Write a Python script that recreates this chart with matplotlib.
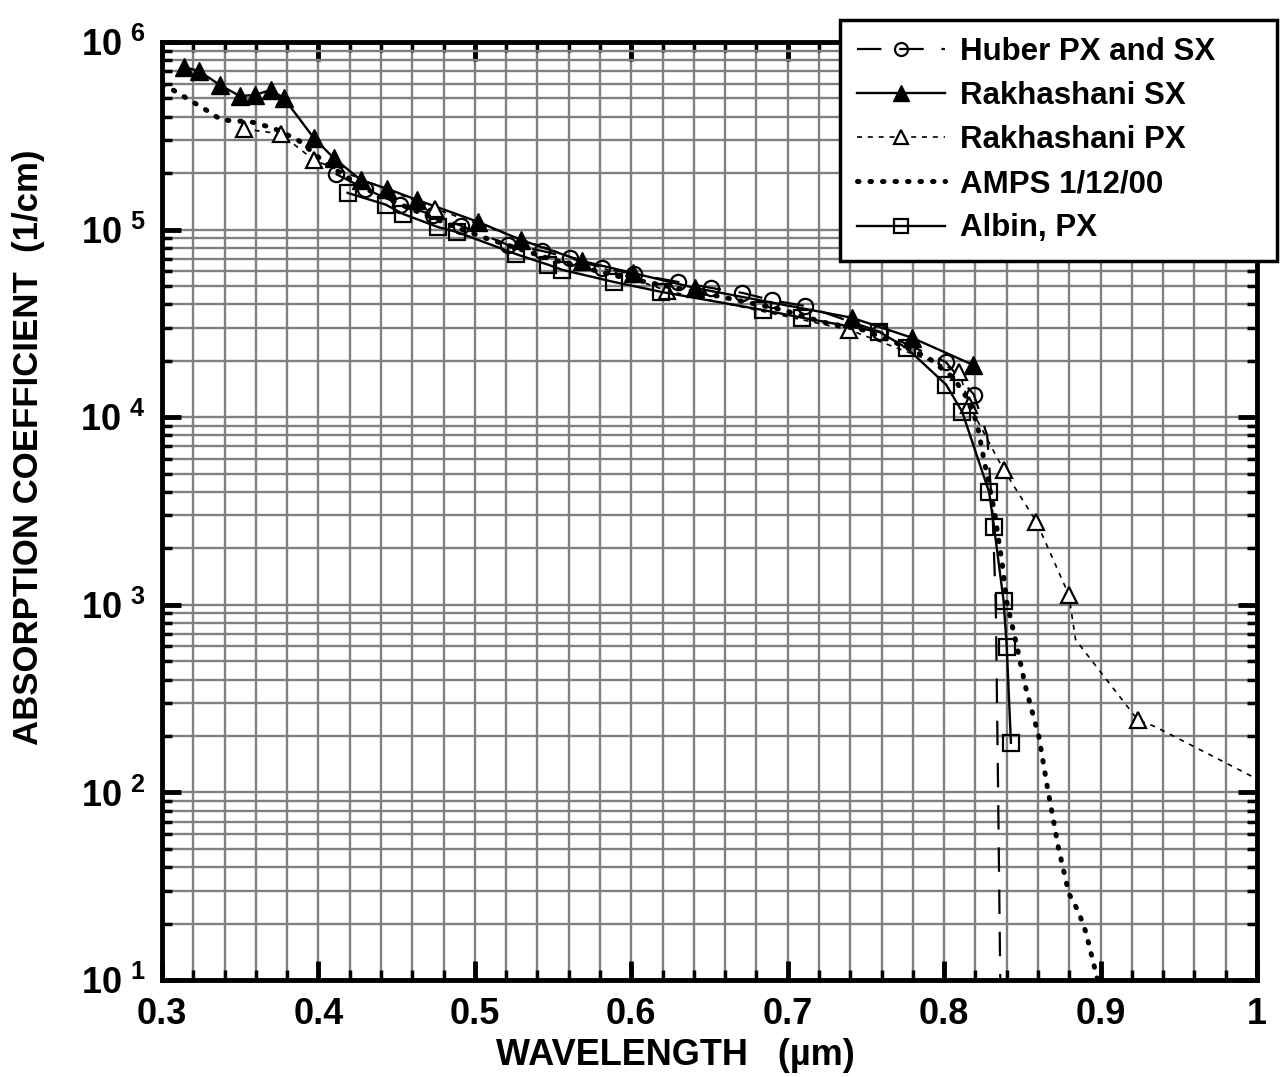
import numpy as np
import matplotlib.pyplot as plt
from matplotlib.ticker import MultipleLocator, LogLocator, FuncFormatter, NullFormatter

plt.rcParams['font.family'] = ['Liberation Sans', 'DejaVu Sans']
plt.rcParams['font.weight'] = 'bold'
plt.rcParams['mathtext.fontset'] = 'custom'
plt.rcParams['mathtext.bf'] = 'Liberation Sans:bold'
plt.rcParams['mathtext.rm'] = 'Liberation Sans:bold'

# Huber PX and SX (markers on the measured points, tail without markers)
huber_x = [0.411, 0.430, 0.452, 0.473, 0.491, 0.521, 0.543, 0.561, 0.581, 0.602,
           0.630, 0.651, 0.671, 0.690, 0.711, 0.759, 0.801, 0.819,
           0.8275, 0.831, 0.833, 0.8345, 0.836]
huber_y = [1.98e5, 1.65e5, 1.36e5, 1.20e5, 1.05e5, 8.3e4, 7.7e4, 7.06e4, 6.25e4, 5.8e4,
           5.26e4, 4.89e4, 4.6e4, 4.2e4, 3.92e4, 2.85e4, 1.97e4, 1.32e4,
           8e3, 3e3, 1e3, 1e2, 8]
huber_mark = [True] * 18 + [False] * 5

# Rakhashani SX
rsx_x = [0.314, 0.3236, 0.337, 0.3497, 0.3593, 0.3695, 0.3778, 0.397, 0.4097, 0.427,
         0.444, 0.463, 0.502, 0.5296, 0.5685, 0.601, 0.6406, 0.741, 0.7796, 0.8185]
rsx_y = [7.36e5, 7.0e5, 5.9e5, 5.15e5, 5.22e5, 5.55e5, 5.03e5, 3.08e5, 2.41e5, 1.84e5,
         1.65e5, 1.44e5, 1.10e5, 8.8e4, 6.8e4, 5.87e4, 4.89e4, 3.39e4, 2.65e4, 1.9e4]

# Rakhashani PX (some line points carry no marker)
rpx_x = [0.3523, 0.3759, 0.397, 0.4747, 0.623, 0.7394, 0.8096, 0.816, 0.838, 0.859,
         0.8797, 0.884, 0.9237, 0.935, 1.0]
rpx_y = [3.44e5, 3.24e5, 2.35e5, 1.29e5, 4.71e4, 2.92e4, 1.75e4, 1.16e4, 5.25e3, 2.77e3,
         1.13e3, 652, 244, 224, 118]
rpx_mark = [True] * 11 + [False, True, False, False]

# AMPS 1/12/00
amps_x = [0.300, 0.307, 0.328, 0.338, 0.357, 0.371, 0.387, 0.406, 0.430, 0.458,
          0.489, 0.507, 0.550, 0.593, 0.6565, 0.697, 0.722, 0.748, 0.768, 0.790,
          0.806, 0.814, 0.821, 0.8255, 0.832, 0.837, 0.840, 0.846, 0.852, 0.8606,
          0.8657, 0.873, 0.8797, 0.886, 0.8906, 0.8976, 0.899]
amps_y = [5.9e5, 5.55e5, 4.35e5, 3.84e5, 3.75e5, 3.48e5, 3.0e5, 2.21e5, 1.65e5, 1.3e5,
          1.02e5, 9.0e4, 6.9e4, 5.6e4, 4.4e4, 3.73e4, 3.22e4, 2.92e4, 2.52e4, 2.07e4,
          1.62e4, 1.29e4, 9.3e3, 5.9e3, 3.2e3, 1.68e3, 1.04e3, 628, 366, 198,
          110, 51, 29, 23, 18, 10.4, 9.0]

# Albin, PX
albin_x = [0.4186, 0.4429, 0.4543, 0.4767, 0.4888, 0.5264, 0.5468, 0.556, 0.5889, 0.619,
           0.684, 0.7094, 0.7585, 0.776, 0.8013, 0.8115, 0.8287, 0.8319, 0.838, 0.840,
           0.8427]
albin_y = [1.57e5, 1.36e5, 1.21e5, 1.03e5, 9.7e4, 7.4e4, 6.5e4, 6.1e4, 5.26e4, 4.66e4,
           3.73e4, 3.39e4, 2.85e4, 2.34e4, 1.49e4, 1.07e4, 4.0e3, 2.6e3, 1.05e3, 598,
           184]

fig = plt.figure(figsize=(12.82, 10.77), dpi=100)
ax = fig.add_axes([0.1264, 0.090, 0.8541, 0.871])

ms = 11
mew = 1.6
ax.plot(huber_x, huber_y, color='black', lw=1.6,
        linestyle=(0, (11, 8)), marker='o', ms=ms, mfc='none', mec='black', mew=mew,
        markevery=huber_mark, label='Huber PX and SX')
ax.plot(rsx_x, rsx_y, color='black', lw=1.7, marker='^', ms=ms + 2, mfc='black',
        mec='black', label='Rakhashani SX')
ax.plot(rpx_x, rpx_y, color='black', lw=1.2,
        linestyle=(0, (3, 3.5)), marker='^', ms=ms + 1, mfc='white', mec='black', mew=mew,
        markevery=rpx_mark, label='Rakhashani PX')
ax.plot(amps_x, amps_y, color='black', lw=3.6, linestyle=(0, (0.3, 2.2)),
        dash_capstyle='round', label='AMPS 1/12/00')
ax.plot(albin_x, albin_y, color='black', lw=1.7, marker='s', ms=ms + 1, mfc='none',
        mec='black', mew=mew, label='Albin, PX')

ax.set_yscale('log')
ax.set_xlim(0.3, 1.0)
ax.set_ylim(10, 1e6)
ax.xaxis.set_major_locator(MultipleLocator(0.1))
ax.xaxis.set_minor_locator(MultipleLocator(0.02))
ax.xaxis.set_major_formatter(FuncFormatter(lambda v, p: '%g' % round(v, 1)))
ax.yaxis.set_major_locator(LogLocator(base=10, numticks=10))
ax.yaxis.set_minor_locator(LogLocator(base=10, subs=np.arange(2, 10), numticks=20))
ax.yaxis.set_minor_formatter(NullFormatter())
ax.yaxis.set_major_formatter(FuncFormatter(
    lambda v, p: r'$\mathbf{10^{\ %d}}$' % round(np.log10(v))))

ax.grid(True, which='both', color='#808080', lw=1.7)
ax.set_axisbelow(True)
for s in ax.spines.values():
    s.set_linewidth(3.5)
ax.tick_params(which='major', direction='in', length=14, width=3.5, top=True,
               right=True, labelsize=26, pad=12)
ax.tick_params(which='minor', direction='in', length=7, width=2.5, top=True, right=True)

ax.set_xlabel('WAVELENGTH   (µm)', fontsize=26, fontweight='bold')
ax.set_ylabel('ABSORPTION COEFFICIENT  (1/cm)', fontsize=25, fontweight='bold')
ax.xaxis.set_label_coords(0.4685, -0.062)
ax.yaxis.set_label_coords(-0.107, 0.568)

leg = ax.legend(loc='upper left', mode='expand', borderaxespad=0,
                bbox_to_anchor=(840 / 1282, 1 - 263 / 1077, 437 / 1282, 243 / 1077),
                bbox_transform=fig.transFigure, prop=dict(weight='bold', size=22.5),
                fancybox=False, edgecolor='black', framealpha=1, handlelength=2.8,
                labelspacing=0.45, borderpad=0.55, handletextpad=0.5, markerscale=0.85)
leg.get_frame().set_linewidth(2.5)

fig.savefig('out.png', dpi=100)
